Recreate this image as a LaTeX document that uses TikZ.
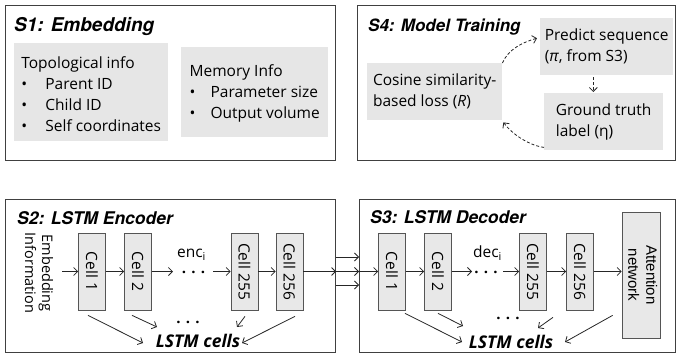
\documentclass[tikz,border=0pt]{standalone}
\usepackage{fontspec}
\setmainfont{Open Sans}
\newfontfamily\headfont{TeX Gyre Heros}
\newfontfamily\arialfont{Liberation Sans}
\usetikzlibrary{arrows.meta,calc}
\definecolor{boxgray}{HTML}{E6E6E6}
\definecolor{framegray}{HTML}{404040}
\definecolor{cellgray}{HTML}{E8E8E8}
\definecolor{celledge}{HTML}{555555}
\begin{document}
\begin{tikzpicture}[x=1pt,y=-1pt,
  panel/.style={draw=framegray,line width=1.1pt,anchor=north west,inner sep=0},
  paneltitle/.style={anchor=base west,inner sep=0,font=\headfont\bfseries\itshape\fontsize{17.5}{19}\selectfont},
  graybox/.style={fill=boxgray,anchor=north west,align=left,inner sep=0,font=\fontsize{15.5}{21}\selectfont},
  cellbox/.style={draw=celledge,fill=cellgray,line width=0.7pt,minimum width=27pt,minimum height=77pt,inner sep=0,font=\fontsize{15.5}{18}\selectfont},
  arr/.style={draw=black!85,line width=0.8pt,-{Straight Barb[length=4pt,width=8pt]}},
  dasharr/.style={arr,dash pattern=on 3pt off 2pt},
  plain/.style={inner sep=0,font=\fontsize{15.5}{18}\selectfont},
  dots/.style={inner sep=0,anchor=base,font=\bfseries\fontsize{15}{18}\selectfont},
  lstm/.style={inner sep=0,font=\bfseries\itshape\fontsize{17.5}{20}\selectfont},
]
\useasboundingbox (0,0) rectangle (680,356);

% ---------- S1 ----------
\node[panel,minimum width=330pt,minimum height=155pt] (s1) at (5,5) {};
\node[paneltitle,font=\headfont\bfseries\itshape\fontsize{19}{20}\selectfont] (t1) at (14,31) {S1: Embedding};
\node[graybox,minimum width=154pt,minimum height=98pt] (topo) at (14,43)
  {\rule{0pt}{15pt}Topological info\\\makebox[24pt][l]{\textbullet}Parent ID\\\makebox[24pt][l]{\textbullet}Child ID\\\makebox[24pt][l]{\textbullet}Self coordinates};
\node[graybox,minimum width=147pt,minimum height=90pt] (mem) at (181,47)
  {\rule{0pt}{14pt}Memory Info\\\makebox[21pt][l]{\textbullet}Parameter size\\\makebox[21pt][l]{\textbullet}Output volume};

% ---------- S4 ----------
\node[panel,minimum width=318pt,minimum height=155pt] (s4) at (357,5) {};
\node[paneltitle,font=\headfont\bfseries\itshape\fontsize{17}{19}\selectfont] (t4) at (368,31) {S4: Model Training};
\node[graybox,minimum width=133pt,minimum height=57pt] (pred) at (540,18) {Predict sequence\\(\textit{π}, from S3)};
\node[graybox,minimum width=135pt,minimum height=57pt] (loss) at (367,63) {Cosine similarity-\\based loss (\textit{R})};
\node[graybox,minimum width=119pt,minimum height=57pt] (gt) at (544,93) {Ground truth\\label (η)};
\draw[dasharr] (loss.north east) .. controls ($(loss.north east)+(6,-14)$) and ($(pred.west)+(-17,-4.5)$) .. ($(pred.west)+(-3,-8.5)$);
\coordinate (pa) at ($(pred.south west)!0.4!(pred.south east)$);
\draw[dasharr] ($(pa)+(0,2)$) -- ($(pa |- gt.north)+(0,-1)$);
\draw[dasharr] ($(gt.south west)+(0,-3)$) .. controls ($(gt.south west)+(-15,-5)$) and ($(loss.south east)+(10,14)$) .. ($(loss.south east)+(1,2)$);

% ---------- S2 ----------
\node[panel,minimum width=330pt,minimum height=153pt] (s2) at (5,199) {};
\node[paneltitle] (t2) at (17,224) {S2: LSTM Encoder};
\node[plain,font=\fontsize{14.5}{17}\selectfont] (emb) at (37,273)
  {\rotatebox{-90}{\begin{tabular}{@{}c@{}}Embedding\\Information\end{tabular}}};
\node[cellbox] (c1) at (92,271.5) {\rotatebox{-90}{Cell 1}};
\node[cellbox] (c2) at (138,271.5) {\rotatebox{-90}{Cell 2}};
\node[cellbox] (c255) at (244.5,271.5) {\rotatebox{-90}{Cell 255}};
\node[cellbox] (c256) at (289.5,271.5) {\rotatebox{-90}{Cell 256}};
\draw[arr] ($(emb.east |- c1.west)+(8,0)$) -- (c1.west);
\draw[arr] (c1.east) -- (c2.west);
\coordinate (e1) at (173,271.5);
\draw[arr] (c2.east) -- (e1);
\node[dots] (edots) at (193.5,273) {. . .};
\node[plain,anchor=base] (enc) at (191.5,257) {enc\textsubscript{i}};
\coordinate (e2) at (213,271.5);
\draw[arr] (e2) -- (c255.west);
\draw[arr] (c255.east) -- (c256.west);
\draw[arr] (c256.east) -- (c256.east -| s2.east);

\node[lstm] (le) at (198,341) {LSTM cells};
\node[dots] (edots2) at (188,323.5) {. . .};
\draw[arr] ($(c1.south)+(-4,5)$) -- ($(le.center)+(-55,2)$);
\draw[arr] ($(c2.south)+(-6,5)$) -- ($(le.center)+(-41,-14)$);
\draw[arr] ($(c255.south)+(0.5,6)$) -- ($(le.center)+(39,-14)$);
\draw[arr] ($(c256.south)+(5.5,6)$) -- ($(le.center)+(44,2)$);

% ---------- S3 ----------
\node[panel,minimum width=316pt,minimum height=153pt] (s3) at (359,199) {};
\node[paneltitle] (t3) at (370,223) {S3: LSTM Decoder};
\node[cellbox] (d1) at (392,271.5) {\rotatebox{-90}{Cell 1}};
\node[cellbox] (d2) at (438,271.5) {\rotatebox{-90}{Cell 2}};
\node[cellbox] (d255) at (533,271.5) {\rotatebox{-90}{Cell 255}};
\node[cellbox] (d256) at (580,271.5) {\rotatebox{-90}{Cell 256}};
\node[cellbox,minimum width=38pt,minimum height=126pt,font=\arialfont\fontsize{15}{18}\selectfont] (att) at (641,275)
  {\rotatebox{-90}{\begin{tabular}{@{}c@{}}Attention\\network\end{tabular}}};

% bus between S2 and S3
\draw[arr] (s2.east |- 0,257) -- (s3.west |- 0,257);
\draw[arr] (c256.east -| s2.east) -- (c256.east -| s3.west);
\draw[arr] (s2.east |- 0,285) -- (s3.west |- 0,285);
\draw[arr] (c256.east -| s3.west) -- (d1.west);

\draw[arr] (d1.east) -- (d2.west);
\coordinate (f1) at (472,271.5);
\draw[arr] (d2.east) -- (f1);
\node[dots] (ddots) at (486,273) {. . .};
\node[plain,anchor=base] (dec) at (487.5,257) {dec\textsubscript{i}};
\coordinate (f2) at (503,271.5);
\draw[arr] (f2) -- (d255.west);
\draw[arr] (d255.east) -- (d256.west);
\draw[arr] (d256.east) -- (d256.east -| att.west);

\node[lstm] (ld) at (511,342) {LSTM cells};
\node[dots] (ddots2) at (508,319.5) {. . .};
\draw[arr] ($(d1.south)+(13,3)$) -- ($(ld.center)+(-49,0)$);
\draw[arr] ($(d2.south)+(0,3)$) -- ($(ld.center)+(-48,-16)$);
\draw[arr] ($(d255.south)+(20,7)$) -- ($(ld.center)+(27,-14)$);
\draw[arr] ($(att.south west)+(-9,-23)$) -- ($(ld.center)+(54,0)$);
\end{tikzpicture}
\end{document}
